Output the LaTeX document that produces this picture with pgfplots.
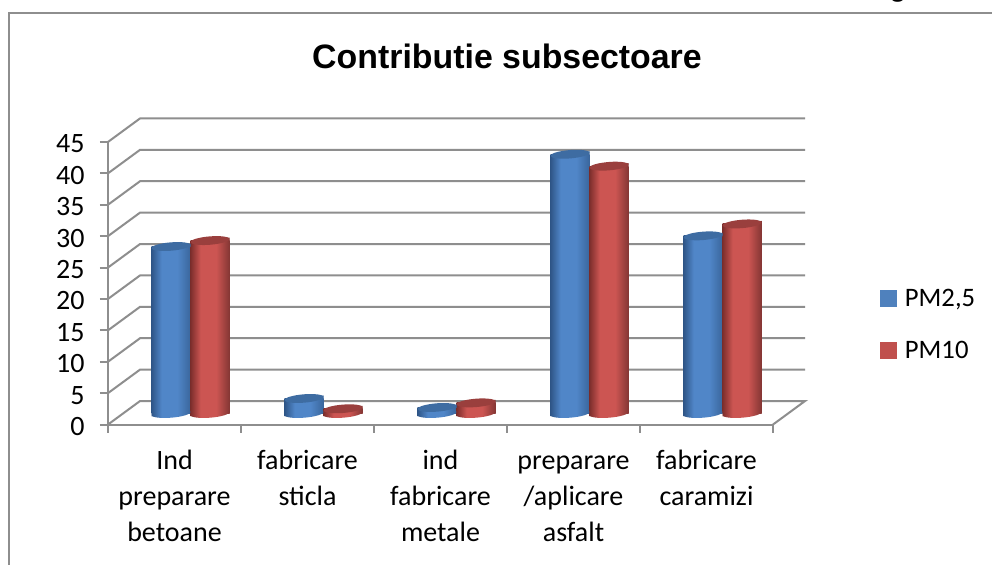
\documentclass[border=0pt]{standalone}
\usepackage{fontspec}
\setmainfont{Carlito}
\newfontfamily\titlefont{Liberation Sans}
\usepackage{pgfplots}
\usepackage{pgfplotstable}
\pgfplotsset{compat=1.18}

\definecolor{gridgray}{HTML}{8E8E8E}
\definecolor{blueL}{HTML}{2F5688}
\definecolor{blueM}{HTML}{5086C8}
\definecolor{blueR}{HTML}{3A669C}
\definecolor{blueCap}{HTML}{3E6CA2}
\definecolor{blueKey}{HTML}{4F81BD}
\definecolor{redL}{HTML}{7C2E2C}
\definecolor{redM}{HTML}{CC5552}
\definecolor{redR}{HTML}{843634}
\definecolor{redCap}{HTML}{9A3F3D}
\definecolor{redKey}{HTML}{C0504D}

\pgfdeclarehorizontalshading{cylblue}{100bp}{color(0bp)=(blueL); color(25bp)=(blueL); color(38bp)=(blueM); color(58bp)=(blueM); color(75bp)=(blueR); color(100bp)=(blueR)}
\pgfdeclarehorizontalshading{cylred}{100bp}{color(0bp)=(redL); color(25bp)=(redL); color(38bp)=(redM); color(58bp)=(redM); color(75bp)=(redR); color(100bp)=(redR)}

% cylinder ends, 1 unit = 1 px of the reference
% sheared ellipse as curves (tikz's ellipse ignores the shear of cm)
\tikzset{px/.style={x=0.75pt,y=0.75pt,draw=none}}
\newcommand{\cylend}{(19.5,1.5) .. controls (19.5,3.82) and (10.77,5.03) .. (0,4.2)
  .. controls (-10.77,3.37) and (-19.5,0.82) .. (-19.5,-1.5)
  .. controls (-19.5,-3.82) and (-10.77,-5.03) .. (0,-4.2)
  .. controls (10.77,-3.37) and (19.5,-0.82) .. (19.5,1.5) -- cycle}
\newcommand{\cyltop}[2]{%
  \shade[px,shading=#1] (-19.5,-0.5) -- (19.5,-0.5) -- (19.5,3) -- (-19.5,0) -- cycle;
  \fill[px,#2,shift={(0,1.5)}] \cylend;}
\newcommand{\cylbase}[1]{%
  \shade[px,shading=#1] (-19.5,0.5) -- (19.5,0.5) -- (19.5,0) -- (-19.5,-3) -- cycle;
  \shade[px,shading=#1,shift={(0,-1.5)}] \cylend;}
\pgfdeclareplotmark{topblue}{\cyltop{cylblue}{blueCap}}
\pgfdeclareplotmark{topred}{\cyltop{cylred}{redCap}}
\pgfdeclareplotmark{baseblue}{\cylbase{cylblue}}
\pgfdeclareplotmark{basered}{\cylbase{cylred}}

\pgfplotstableread{
xb     xr     pm25  pm10  base
0.3534 0.6466 26.7  27.65 0.11
1.3534 1.6466 2.5   0.86  0.11
2.3534 2.6466 1.07  1.8   0.11
3.3534 3.6466 41.4  39.5  0.11
4.3534 4.6466 28.4  30.3  0.11
}\subsectoare

\begin{document}
\begin{tikzpicture}[x=0.75pt,y=0.75pt]
\clip[use as bounding box] (0,0) rectangle (992,564);
\fill[white] (0,0) rectangle (992,564);
\draw[gridgray,line width=1.5pt] (9,-5) -- (9,551) -- (1000,551);
\node[font=\titlefont\bfseries\fontsize{20.5}{24}\selectfont,anchor=base] at (898,567) {g};

% walls and floor
\begin{axis}[
  at={(81pt,104.6pt)}, anchor=south west,
  scale only axis, width=498.75pt, height=211.95pt,
  xmin=0, xmax=5, ymin=0, ymax=45,
  clip=false,
  axis lines=left,
  axis line style={gridgray,line width=1.5pt,-},
  ytick distance=5,
  xtick={0.5,1.5,2.5,3.5,4.5},
  xticklabels={{Ind\\preparare\\betoane},{fabricare\\sticla},{ind\\fabricare\\metale},{\vphantom{d}preparare\\/aplicare\\asfalt},{fabricare\\caramizi}},
  minor xtick={0,1,2,3,4,5},
  major x tick style={draw=none},
  tick align=outside,
  major tick length=6pt, minor tick length=6pt,
  tick style={gridgray,line width=1.5pt},
  tick label style={font=\fontsize{21}{27}\selectfont},
  /pgf/number format/assume math mode=true,
  xticklabel style={align=center,anchor=north,yshift=-9.5pt},
  yticklabel style={xshift=-8pt,yshift=-1.5pt},
  title={\titlefont\bfseries Contributie subsectoare},
  title style={at={(0.6,1)},anchor=base,yshift=49pt,font=\fontsize{25.4}{28}\selectfont},
  unbounded coords=jump,
]
\addplot[gridgray,line width=1.5pt,forget plot] coordinates {
  (0,0) (0.2406,3.74) (5.2406,3.74) (5,0) (nan,nan)
  (0,5) (0.2406,8.74) (5.2406,8.74) (nan,nan)
  (0,10) (0.2406,13.74) (5.2406,13.74) (nan,nan)
  (0,15) (0.2406,18.74) (5.2406,18.74) (nan,nan)
  (0,20) (0.2406,23.74) (5.2406,23.74) (nan,nan)
  (0,25) (0.2406,28.74) (5.2406,28.74) (nan,nan)
  (0,30) (0.2406,33.74) (5.2406,33.74) (nan,nan)
  (0,35) (0.2406,38.74) (5.2406,38.74) (nan,nan)
  (0,40) (0.2406,43.74) (5.2406,43.74) (nan,nan)
  (0,45) (0.2406,48.74) (5.2406,48.74)
};
\end{axis}

% cylinders
\begin{axis}[
  at={(93pt,112.875pt)}, anchor=south west,
  scale only axis, width=498.75pt, height=211.4pt,
  xmin=0, xmax=5, ymin=0.11, ymax=45,
  clip=false, hide axis,
  legend style={at={(1.137,0.3155)},anchor=west,draw=none,fill=none,inner sep=0pt,
    font=\fontsize{20}{24}\selectfont,row sep=24.5pt,
    nodes={inner sep=0pt}},
  legend cell align=left,
]
% one plot per bar: a shading fills the whole path of a plot
\addlegendimage{legend image code/.code={\fill[blueKey] (0pt,-6pt) rectangle (12pt,6pt); \path (18pt,0pt);}}
\addlegendentry{PM2,5}
\addlegendimage{legend image code/.code={\fill[redKey] (0pt,-6pt) rectangle (12pt,6pt); \path (18pt,0pt);}}
\addlegendentry{PM10}
\pgfplotsinvokeforeach{0,1,2,3,4}{
  \addplot[only marks,mark=baseblue,forget plot,skip coords between index={0}{#1},
    skip coords between index={\numexpr#1+1\relax}{5}] table[x=xb,y=base] {\subsectoare};
  \addplot[ybar,bar width=29.25pt,bar shift=0pt,draw=none,shade,shading=cylblue,forget plot,
    skip coords between index={0}{#1},skip coords between index={\numexpr#1+1\relax}{5}]
    table[x=xb,y=pm25] {\subsectoare};
  \addplot[only marks,mark=topblue,forget plot,skip coords between index={0}{#1},
    skip coords between index={\numexpr#1+1\relax}{5}] table[x=xb,y=pm25] {\subsectoare};
  \addplot[only marks,mark=basered,forget plot,skip coords between index={0}{#1},
    skip coords between index={\numexpr#1+1\relax}{5}] table[x=xr,y=base] {\subsectoare};
  \addplot[ybar,bar width=29.25pt,bar shift=0pt,draw=none,shade,shading=cylred,forget plot,
    skip coords between index={0}{#1},skip coords between index={\numexpr#1+1\relax}{5}]
    table[x=xr,y=pm10] {\subsectoare};
  \addplot[only marks,mark=topred,forget plot,skip coords between index={0}{#1},
    skip coords between index={\numexpr#1+1\relax}{5}] table[x=xr,y=pm10] {\subsectoare};
}
\end{axis}
\end{tikzpicture}
\end{document}
